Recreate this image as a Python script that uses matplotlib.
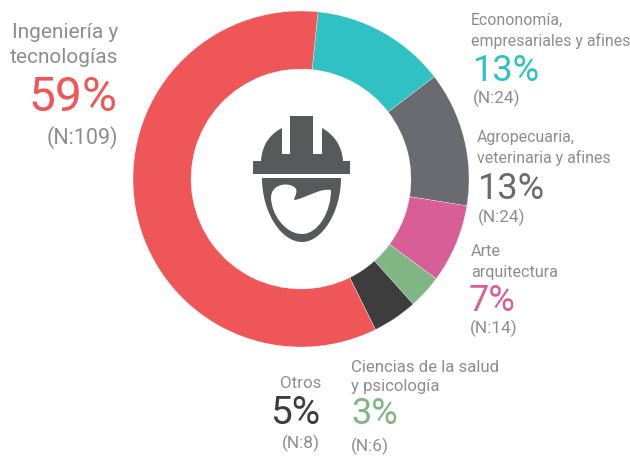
import matplotlib
matplotlib.use("Agg")
import matplotlib.pyplot as plt
from matplotlib.path import Path
from matplotlib.patches import PathPatch

W, H = 630, 457
counts = [24, 24, 14, 6, 8, 109]
colors = ["#2FC1C4", "#6A6B70", "#D75E97", "#80B584", "#3D3D3D", "#EE5658"]
labels = [
    "Econonomía,\nempresariales y afines", "Agropecuaria,\nveterinaria y afines",
    "Arte\narquitectura", "Ciencias de la salud\ny psicología", "Otros",
    "Ingeniería y\ntecnologías",
]
percents = ["13%", "13%", "7%", "3%", "5%", "59%"]
ns = ["(N:24)", "(N:24)", "(N:14)", "(N:6)", "(N:8)", "(N:109)"]

FONT = ["Roboto", "DejaVu Sans"]
GREY = "#8C8D91"
ICON = "#58595B"

fig = plt.figure(figsize=(W / 100, H / 100), dpi=100)
ax = fig.add_axes([0, 0, 1, 1])
Y = lambda py: H - py

ax.pie(counts, colors=colors, startangle=84.2, counterclock=False,
       center=(301, Y(179)), radius=168,
       wedgeprops=dict(width=58, linewidth=0.2, edgecolor="white"))
ax.set_xlim(0, W)
ax.set_ylim(0, H)
ax.set_aspect("equal")
ax.axis("off")

M, L, C, Z = Path.MOVETO, Path.LINETO, Path.CURVE4, Path.CLOSEPOLY

def shape(segments):
    verts, codes = [], []
    for code, pts in segments:
        for p in pts:
            verts.append((p[0], Y(p[1])))
            codes.append(code)
    return Path(verts, codes)

# helmet icon (decoration), in pixel coordinates
helmet = shape([
    (M, [(253, 174)]), (L, [(253, 161), (261, 161)]),
    (C, [(262, 145), (270, 134), (282, 128)]),
    (L, [(282, 154), (290, 154), (290, 116), (313, 116), (313, 154), (322, 154), (322, 128)]),
    (C, [(333, 134), (342, 145), (343, 161)]),
    (L, [(350, 161), (350, 174)]), (Z, [(253, 174)]),
])
ax.add_patch(PathPatch(helmet, facecolor=ICON, edgecolor="none"))

face = shape([
    (M, [(262, 178)]), (L, [(341, 178)]),
    (C, [(341, 212), (322, 242), (302, 242)]),
    (C, [(281, 242), (262, 212), (262, 178)]), (Z, [(262, 178)]),
    (M, [(271, 197)]),
    (C, [(271, 214), (285, 234), (302, 234)]),
    (C, [(318, 234), (331, 212), (331, 190)]),
    (C, [(320, 188), (308, 197), (295, 200)]),
    (C, [(292, 200), (298, 194), (296, 189)]),
    (C, [(292, 182), (272, 182), (271, 197)]), (Z, [(271, 197)]),
])
ax.add_patch(PathPatch(face, facecolor=ICON, edgecolor="none"))


def text(x, y, s, size, color, ha="left", ls=1.45):
    ax.text(x, Y(y), s, fontsize=size, color=color, ha=ha, va="center",
            multialignment=ha, family=FONT, linespacing=ls)


LAB = 11.4
NS = 12.4
PCT = 26
text(471, 31, labels[0], LAB, GREY)
text(473, 71, percents[0], PCT, colors[0])
text(473, 98, ns[0], NS, GREY)

text(477, 148, labels[1], LAB, GREY)
text(478, 189, percents[1], PCT, colors[1])
text(478, 217, ns[1], NS, GREY)

text(471, 262, labels[2], 11.6, GREY)
text(469, 301, percents[2], PCT, colors[2])
text(470, 328, ns[2], NS, GREY)

text(351, 377, labels[3], 12.1, GREY, ls=1.38)
text(351, 414, percents[3], PCT, colors[3])
text(351, 446, ns[3], NS, GREY)

text(321, 383, labels[4], 12.2, GREY, ha="right")
text(320, 414, percents[4], 28, colors[4], ha="right")
text(320, 443, ns[4], NS, GREY, ha="right")

text(118, 45, labels[5], 15, GREY, ha="right", ls=1.35)
text(117, 98, percents[5], 34.5, colors[5], ha="right")
text(118, 138, ns[5], 15.5, GREY, ha="right")

fig.savefig("out.png", dpi=100)
